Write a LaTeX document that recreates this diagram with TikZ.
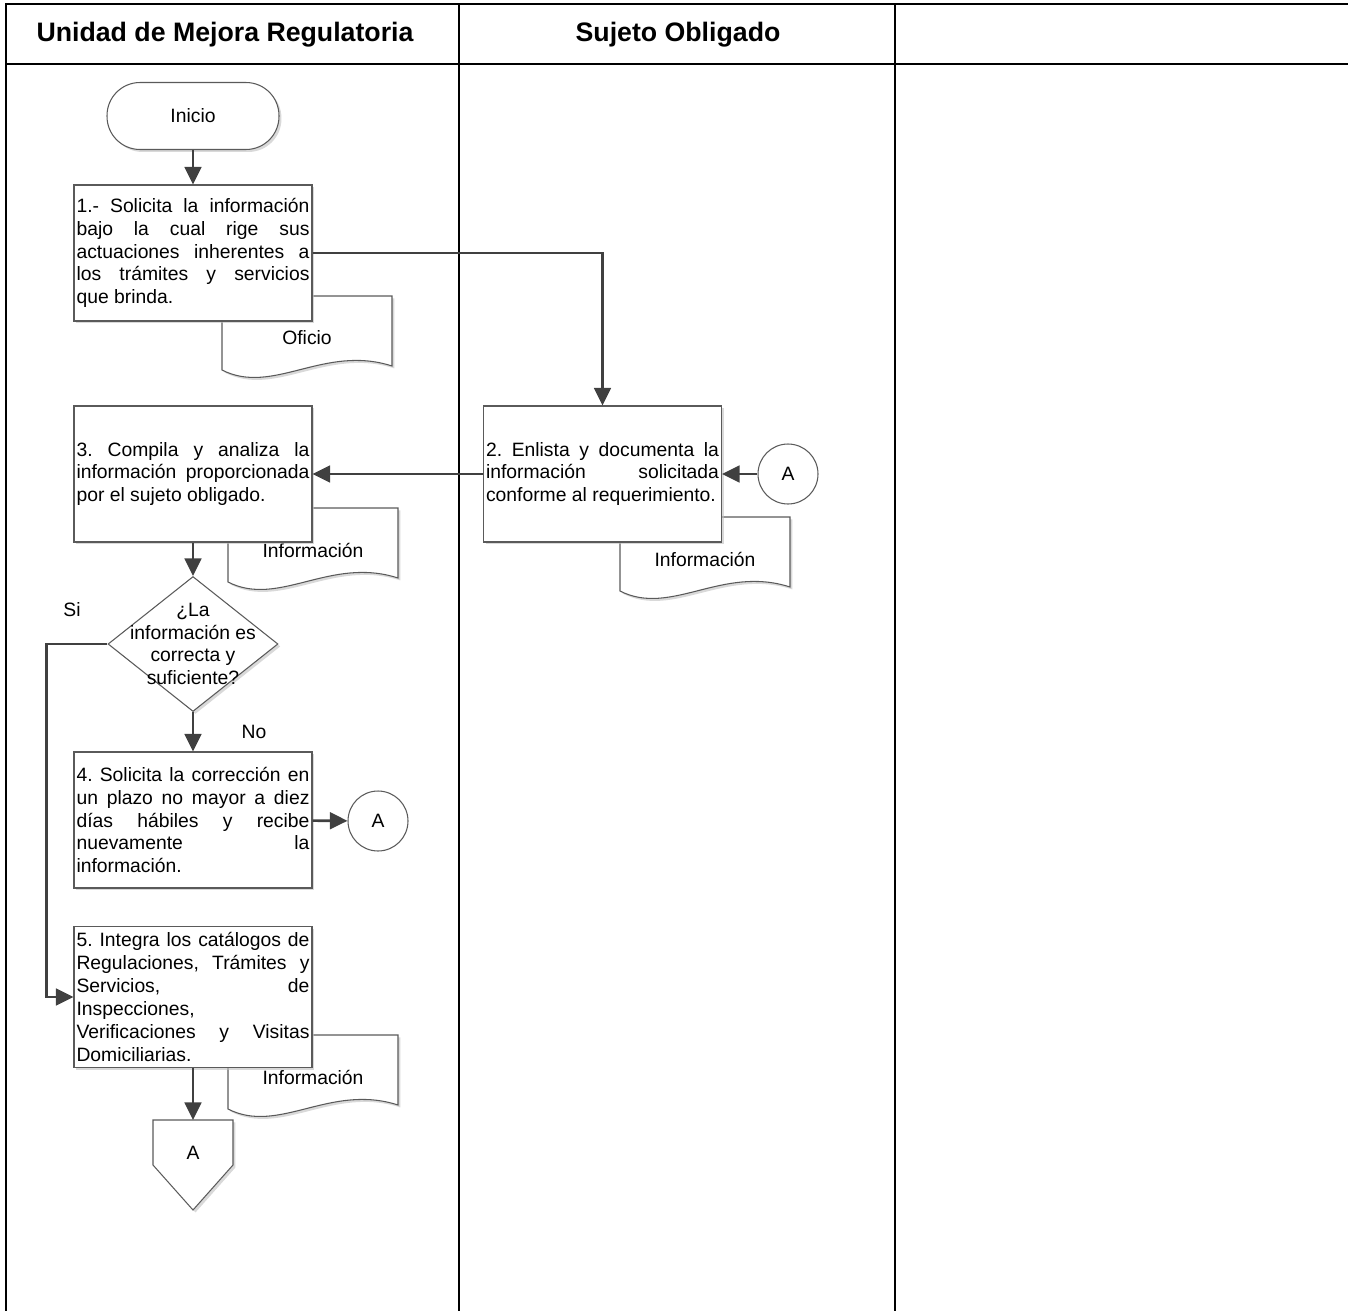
\documentclass[tikz,border=0pt]{standalone}
\usepackage{fontspec}
\setmainfont{Liberation Sans}
\usetikzlibrary{positioning, arrows.meta, shapes.geometric, shadows}

\definecolor{gristrazo}{HTML}{404040}
\definecolor{grisborde}{HTML}{5A5A5A}

\tolerance=10000
\hbadness=10000
\hyphenpenalty=10000
\frenchspacing

\tikzset{
  sombra/.style={drop shadow={shadow xshift=1.4pt, shadow yshift=-1.4pt, fill=black!25, opacity=0.6}},
  cuerpo/.style={font=\fontsize{11}{13}\selectfont},
  caja/.style={draw=grisborde, line width=0.6pt, fill=white, rectangle, minimum width=4.76cm, minimum height=2.72cm, text width=4.66cm, inner xsep=0.05cm, align=justify, cuerpo, sombra},
  terminal/.style={draw=grisborde, line width=0.6pt, fill=white, rectangle, rounded corners=0.66cm, minimum width=3.44cm, minimum height=1.34cm, cuerpo, sombra},
  decision/.style={draw=grisborde, line width=0.6pt, fill=white, diamond, minimum width=3.4cm, minimum height=2.7cm, inner sep=0pt, sombra},
  conector/.style={draw=grisborde, line width=0.6pt, fill=white, circle, minimum size=1.2cm, inner sep=0pt, cuerpo},
  doc/.style={draw=grisborde, line width=0.6pt, fill=white, sombra},
  texto/.style={align=center, cuerpo},
  encabezado/.style={font=\fontsize{15.2}{18}\selectfont\bfseries},
  marco/.style={line width=1.5pt, black},
  flecha/.style={draw=gristrazo, line width=1.5pt, -{Triangle[length=10pt, width=9.5pt]}},
  linea/.style={draw=gristrazo, line width=1.5pt}
}

% documento: nombre, x izquierda, y superior, texto
\newcommand{\documento}[4]{%
  \draw[doc] (#2,#3) -- (#2+170,#3) -- (#2+170,#3+70)
    .. controls (#2+102,#3+48) and (#2+51,#3+100) .. (#2,#3+74) -- cycle;
  \node[texto] (#1) at (#2+85,#3+42) {#4};
}

\begin{document}
\begin{tikzpicture}[x=0.02cm, y=-0.02cm]
\useasboundingbox (0,0) rectangle (1348,1311);

% tabla
\draw[marco] (1348,4) -- (6,4) -- (6,1311);
\draw[marco] (6,64) -- (1348,64);
\draw[marco] (459,4) -- (459,1311);
\draw[marco] (895,4) -- (895,1311);
\node[encabezado] (umr) at (225,35) {Unidad de Mejora Regulatoria};
\node[encabezado] (sujeto) at (678,35) {Sujeto Obligado};

% documentos
\documento{oficio}{222}{296}{Oficio}
\documento{info3}{228}{508}{Información}
\documento{info2}{620}{517}{Información}
\documento{info5}{228}{1035}{Información}

% pasos
\node[terminal] (inicio) at (193,116) {Inicio};
\node[caja] (caja1) at (193,253) {1.- Solicita la información\linebreak bajo la cual rige sus\linebreak actuaciones inherentes a\linebreak los trámites y servicios\linebreak que brinda.};
\node[caja] (caja2) at (602.5,474) {2. Enlista y documenta la\linebreak información solicitada\linebreak conforme al requerimiento.};
\node[caja] (caja3) at (193,474) {3. Compila y analiza la\linebreak información proporcionada\linebreak por el sujeto obligado.};
\node[conector] (conA1) at (788,474) {A};

\node[decision] (dec) at (193,644) {};
\node[texto] (dectexto) at (dec) {¿La\\información es\\correcta y\\suficiente?};
\node[cuerpo] (si) at (72,610) {Si};
\node[cuerpo] (no) at (254,732) {No};

\node[caja] (caja4) at (193,820) {4. Solicita la corrección en\linebreak un plazo no mayor a diez\linebreak días hábiles y recibe\linebreak nuevamente la\linebreak información.};
\node[conector] (conA2) at (378,821) {A};
\node[caja] (caja5) at (193,997) {5. Integra los catálogos de\linebreak Regulaciones, Trámites y\linebreak Servicios, de\linebreak Inspecciones,\linebreak Verificaciones y Visitas\linebreak Domiciliarias.};

% conector fuera de pagina
\draw[doc] (153,1120) -- (233,1120) -- (233,1165) -- (193,1210) -- (153,1165) -- cycle;
\coordinate (pagAtop) at (193,1120);
\node[texto] (pagA) at (193,1153) {A};

% flujo
\draw[flecha] (inicio) -- (caja1);
\draw[flecha] (caja1.east) -| (caja2.north);
\draw[flecha] (conA1) -- (caja2);
\draw[flecha] (caja2) -- (caja3);
\draw[flecha] (caja3) -- (dec);
\draw[flecha] (dec.west) -- ++(-61,0) |- (caja5.west);
\draw[flecha] (dec) -- (caja4);
\draw[flecha] (caja4) -- (conA2);
\draw[flecha] (caja5) -- (pagAtop);
\end{tikzpicture}
\end{document}
